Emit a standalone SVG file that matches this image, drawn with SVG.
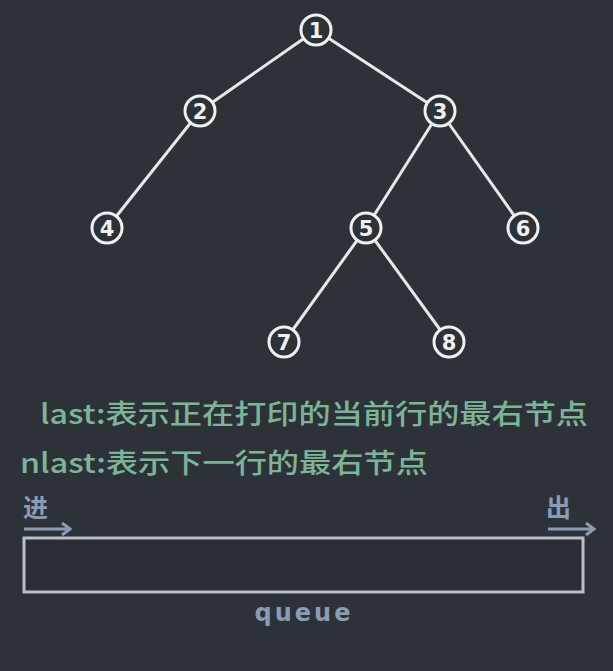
<svg xmlns="http://www.w3.org/2000/svg" width="613" height="671" viewBox="0 0 613 671">
<style>
.edge{stroke:#e8e8e8;stroke-width:3}
.node circle{fill:#2d3239;stroke:#f0f0f0;stroke-width:3}
.node text{fill:#f0f0f0;font-family:"DejaVu Sans",sans-serif;font-weight:bold;font-size:21px;text-anchor:middle}
.desc{fill:#7db497;font-family:"Noto Sans CJK SC",sans-serif;font-weight:500;font-size:27px}
.q{fill:#8a9cb3;font-family:"Noto Sans CJK SC",sans-serif;font-size:25px;font-weight:bold}
.arr{stroke:#8a9cb3;stroke-width:3;fill:none}
</style>
<rect width="613" height="671" fill="#2d3239"/>
<g id="connectors">
<line class="edge" x1="316" y1="30" x2="200" y2="111"/>
<line class="edge" x1="316" y1="30" x2="440" y2="111"/>
<line class="edge" x1="200" y1="111" x2="107" y2="228"/>
<line class="edge" x1="440" y1="111" x2="366" y2="228"/>
<line class="edge" x1="440" y1="111" x2="523" y2="228"/>
<line class="edge" x1="366" y1="228" x2="284" y2="342"/>
<line class="edge" x1="366" y1="228" x2="449" y2="342"/>
</g>
<g id="n1" class="node"><circle cx="316" cy="30" r="15"/><text x="316" y="38">1</text></g>
<g id="n2" class="node"><circle cx="200" cy="111" r="15"/><text x="200" y="119">2</text></g>
<g id="n3" class="node"><circle cx="440" cy="111" r="15"/><text x="440" y="119">3</text></g>
<g id="n4" class="node"><circle cx="107" cy="228" r="15"/><text x="107" y="236">4</text></g>
<g id="n5" class="node"><circle cx="366" cy="228" r="15"/><text x="366" y="236">5</text></g>
<g id="n6" class="node"><circle cx="523" cy="228" r="15"/><text x="523" y="236">6</text></g>
<g id="n7" class="node"><circle cx="284" cy="342" r="15"/><text x="284" y="350">7</text></g>
<g id="n8" class="node"><circle cx="449" cy="342" r="15"/><text x="449" y="350">8</text></g>
<text class="desc" x="40" y="424" textLength="548" lengthAdjust="spacingAndGlyphs">last:表示正在打印的当前行的最右节点</text>
<text class="desc" x="20" y="473" textLength="408" lengthAdjust="spacingAndGlyphs">nlast:表示下一行的最右节点</text>
<g id="queue">
<text class="q" x="23" y="517">进</text>
<path class="arr" d="M24 529 H70 M62 523 L70 529 L62 535"/>
<text class="q" x="546" y="517">出</text>
<path class="arr" d="M548 529 H594 M586 523 L594 529 L586 535"/>
<rect x="24" y="538" width="559" height="54" fill="#2a2e34" stroke="#b9bec6" stroke-width="3"/>
<text x="304" y="621" fill="#8a9cb3" font-family="DejaVu Sans,sans-serif" font-size="24" font-weight="bold" letter-spacing="3" text-anchor="middle">queue</text>
</g>
</svg>
